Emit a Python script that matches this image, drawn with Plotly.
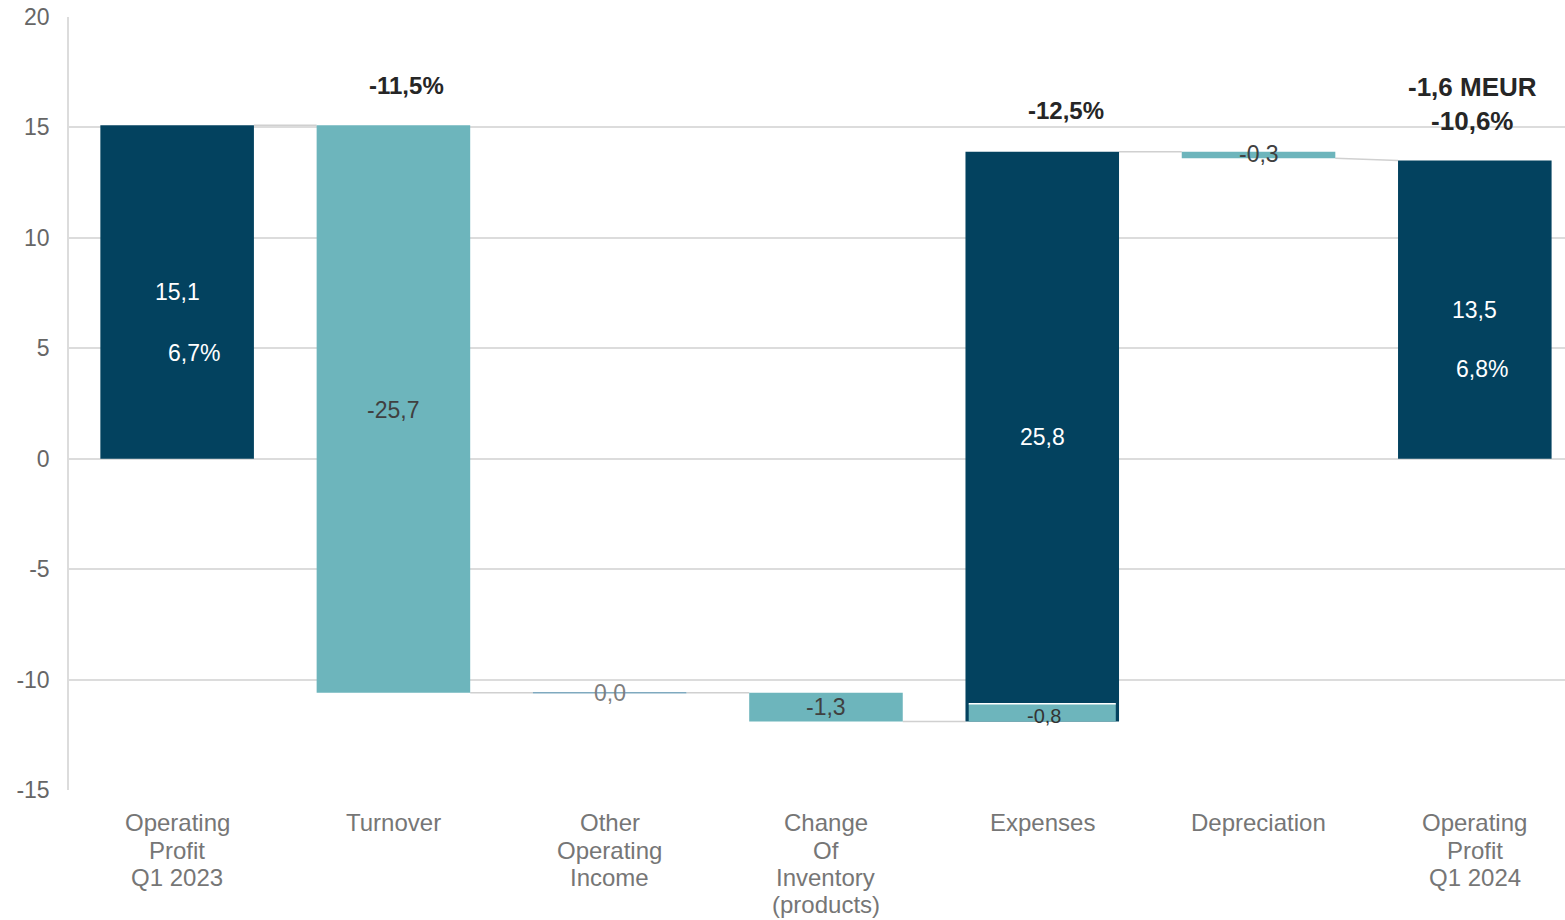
import plotly.graph_objects as go

categories = ["Operating<br>Profit<br>Q1 2023", "Turnover", "Other<br>Operating<br>Income",
              "Change<br>Of<br>Inventory<br>(products)", "Expenses", "Depreciation",
              "Operating<br>Profit<br>Q1 2024"]
start_value = 15.1
deltas = [-25.7, 0.0, -1.3, 25.8, -0.3]
end_value = 13.5
value_labels = ["15,1", "-25,7", "0,0", "-1,3", "25,8", "-0,3", "13,5"]
margin_labels = {0: "6,7%", 6: "6,8%"}
expense_sub_value = -0.8
expense_sub_label = "-0,8"
change_labels = {1: "-11,5%", 4: "-12,5%", 6: "-1,6 MEUR<br>-10,6%"}
y_ticks = [-15, -10, -5, 0, 5, 10, 15, 20]
y_tick_text = ["-15", "-10", "-5", "0", "5", "10", "15", "20"]

DARK = "#03425F"
TEAL = "#6DB5BC"
GRID = "#DCDCDC"
FONT = "Liberation Sans, Arial, sans-serif"

PLOT_TOP, PLOT_BOTTOM = 17, 790
PLOT_H = PLOT_BOTTOM - PLOT_TOP

bases, heights, colors = [], [], []
bases.append(0); heights.append(start_value); colors.append(DARK)
level = start_value
for d in deltas:
    if d >= 0:
        bases.append(level); heights.append(d)
    else:
        bases.append(level + d); heights.append(-d)
    colors.append(DARK if d > 0 else TEAL)
    level += d
bases.append(0); heights.append(end_value); colors.append(DARK)

x = list(range(len(categories)))
BW = 0.71

fig = go.Figure()
fig.add_trace(go.Bar(x=x, y=heights, base=bases, width=BW, marker=dict(color=colors, line=dict(width=0)),
                     hoverinfo="skip"))

exp_idx = 4
exp_bottom = bases[exp_idx]
fig.add_trace(go.Bar(x=[exp_idx], y=[-expense_sub_value], base=[exp_bottom], width=0.68,
                     marker=dict(color=TEAL, line=dict(width=0)), hoverinfo="skip"))

shapes = []
shapes.append(dict(type="line", x0=exp_idx - 0.34, x1=exp_idx + 0.34,
                   y0=exp_bottom - expense_sub_value, y1=exp_bottom - expense_sub_value,
                   line=dict(color="white", width=1.5)))
for i, h in enumerate(heights):
    if h == 0:
        shapes.append(dict(type="line", x0=i - BW / 2, x1=i + BW / 2, y0=bases[i], y1=bases[i],
                           line=dict(color="#7FA9BF", width=1.5)))

level = start_value
conn_levels = [start_value]
for d in deltas:
    level += d
    conn_levels.append(level)
for i in range(len(categories) - 1):
    y0 = conn_levels[i]
    y1 = conn_levels[i] if i < len(categories) - 2 else end_value
    shapes.append(dict(type="line", x0=i + BW / 2, x1=i + 1 - BW / 2, y0=y0, y1=y1,
                       line=dict(color="#D0D0D0", width=1.5), layer="below"))

annotations = []
label_pos = [7.56, 2.2, None, None, 1.0, None, 6.75]
for i, lab in enumerate(value_labels):
    fs = 23
    if i == 2:
        yy = bases[i]; col = "#7F7F7F"
    elif i == 3:
        yy = bases[i] + heights[i] / 2; col = "#404040"
    elif i == 5:
        yy = bases[i] + heights[i] / 2 + 0.05; col = "#404040"
    else:
        yy = label_pos[i]
        col = "#404040" if colors[i] == TEAL else "white"
    annotations.append(dict(x=i, y=yy, text=lab, showarrow=False,
                            font=dict(size=fs, color=col, family=FONT)))
margin_pos = {0: (0.08, 4.8), 6: (0.035, 4.07)}
for i, t in margin_labels.items():
    dx, yy = margin_pos[i]
    annotations.append(dict(x=i + dx, y=yy, text=t, showarrow=False,
                            font=dict(size=23, color="white", family=FONT)))
annotations.append(dict(x=exp_idx + 0.01, y=exp_bottom - expense_sub_value / 2 - 0.15,
                        text=expense_sub_label, showarrow=False,
                        font=dict(size=20, color="#333333", family=FONT)))
change_pos = {1: (0.06, 16.9, 24), 4: (0.11, 15.76, 24), 6: (-0.01, 16.07, 26)}
for i, t in change_labels.items():
    dx, yy, fs = change_pos[i]
    annotations.append(dict(x=i + dx, y=yy, text="<b>" + t + "</b>", showarrow=False,
                            font=dict(size=fs, color="#262626", family=FONT)))

# category labels, one annotation per line for tight line spacing
LINE_Y0, LINE_STEP = 823, 27.3
for i, cat in enumerate(categories):
    for k, line in enumerate(cat.split("<br>")):
        pix = LINE_Y0 + k * LINE_STEP
        annotations.append(dict(x=i, xref="x", y=-(pix - PLOT_BOTTOM) / PLOT_H,
                                yref="paper", yanchor="middle", text=line, showarrow=False,
                                font=dict(size=24, color="#767676", family=FONT)))

fig.update_layout(
    width=1565, height=920,
    margin=dict(l=69, r=0, t=PLOT_TOP, b=920 - PLOT_BOTTOM),
    paper_bgcolor="white", plot_bgcolor="white",
    showlegend=False, barmode="overlay",
    shapes=shapes, annotations=annotations,
    font=dict(family=FONT, color="#595959", size=21),
)
fig.update_xaxes(range=[-0.5, 6.417], tickvals=x, showticklabels=False, showgrid=False,
                 zeroline=False, showline=False, ticks="")
fig.update_yaxes(range=[-15, 20], tickvals=y_ticks, ticktext=y_tick_text, showgrid=True,
                 gridcolor=GRID, gridwidth=1.5,
                 zeroline=True, zerolinecolor=GRID, zerolinewidth=1.5,
                 showline=True, linecolor=GRID, linewidth=1.5, ticks="", ticklabelstandoff=13,
                 tickfont=dict(size=23, color="#666666", family=FONT))

fig.write_html("out.html")
